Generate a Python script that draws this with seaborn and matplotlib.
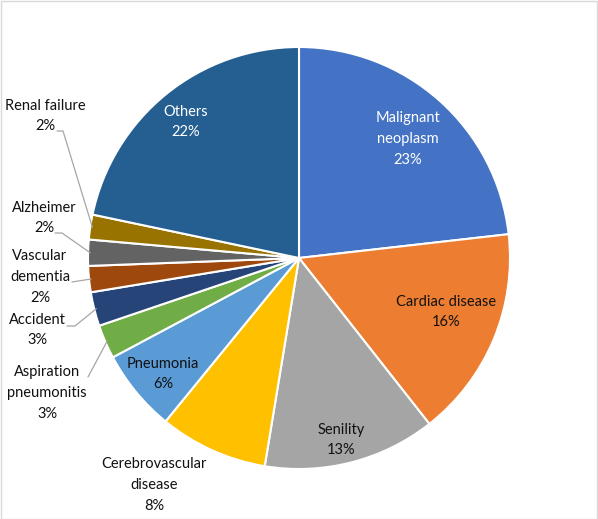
import numpy as np
import matplotlib
matplotlib.use("Agg")
import matplotlib.pyplot as plt
import seaborn as sns

# Data (share of deaths, %)
causes = ["Malignant\nneoplasm", "Cardiac disease", "Senility", "Cerebrovascular\ndisease",
          "Pneumonia", "Aspiration\npneumonitis", "Accident", "Vascular\ndementia",
          "Alzheimer", "Renal failure", "Others"]
shares = [23.2, 16.2, 13.2, 8.3, 6.3, 2.6, 2.6, 2.0, 2.0, 1.9, 21.7]
colors = ["#4472C4", "#ED7D31", "#A5A5A5", "#FFC000", "#5B9BD5", "#70AD47",
          "#264478", "#9E480E", "#636363", "#997300", "#255E91"]

sns.set_theme(style="white")
plt.rcParams["font.family"] = ["Lato", "DejaVu Sans"]

fig = plt.figure(figsize=(5.98, 5.19), dpi=100)
W, H = 598, 519
cx, cy, r = 299, 258, 211
ax = fig.add_axes([(cx - r) / W, (H - cy - r) / H, 2 * r / W, 2 * r / H])

wedges, _ = ax.pie(shares, colors=sns.color_palette(colors), startangle=90,
                   counterclock=False, radius=1,
                   wedgeprops=dict(edgecolor="white", linewidth=1.5))
ax.set_xlim(-1, 1)
ax.set_ylim(-1, 1)
ax.set_aspect("equal")
ax.axis("off")


def px(x, y):
    return (x - cx) / r, (cy - y) / r


# label placement in pixel coords (text centre) and text colour
label_pos = [
    ((408, 139), "white"),
    ((446, 312), "#111111"),
    ((341, 440), "#111111"),
    ((154, 485), "#111111"),
    ((163, 374), "#111111"),
    ((47, 393), "#111111"),
    ((37, 330), "#111111"),
    ((40, 277), "#111111"),
    ((44, 218), "#111111"),
    ((45, 116), "#111111"),
    ((186, 122), "white"),
]
# leader line starts (pixel coords) for outside labels
leaders = {
    5: [(88, 377)],
    6: [(67, 326), (75, 326)],
    7: [(72, 282)],
    8: [(55, 233), (62, 233)],
    9: [(57, 131), (63, 131)],
}

for i, (name, val) in enumerate(zip(causes, shares)):
    (lx, ly), col = label_pos[i]
    x, y = px(lx, ly)
    ax.text(x, y, f"{name}\n{round(val):.0f}%", ha="center", va="center",
            fontsize=10.5, color=col, linespacing=1.6)
    if i in leaders:
        w = wedges[i]
        mid = np.deg2rad((w.theta1 + w.theta2) / 2)
        pts = [px(*p) for p in leaders[i]] + [(0.99 * np.cos(mid), 0.99 * np.sin(mid))]
        xs, ys = zip(*pts)
        ax.plot(xs, ys, color="#A6A6A6", linewidth=0.9, clip_on=False)

# chart frame
fig.patches.append(plt.Rectangle((0.5 / W, 0.5 / H), 1 - 1.5 / W, 1 - 1.5 / H,
                                 transform=fig.transFigure, fill=False,
                                 edgecolor="#D9D9D9", linewidth=1))

fig.savefig("out.png", dpi=100)
